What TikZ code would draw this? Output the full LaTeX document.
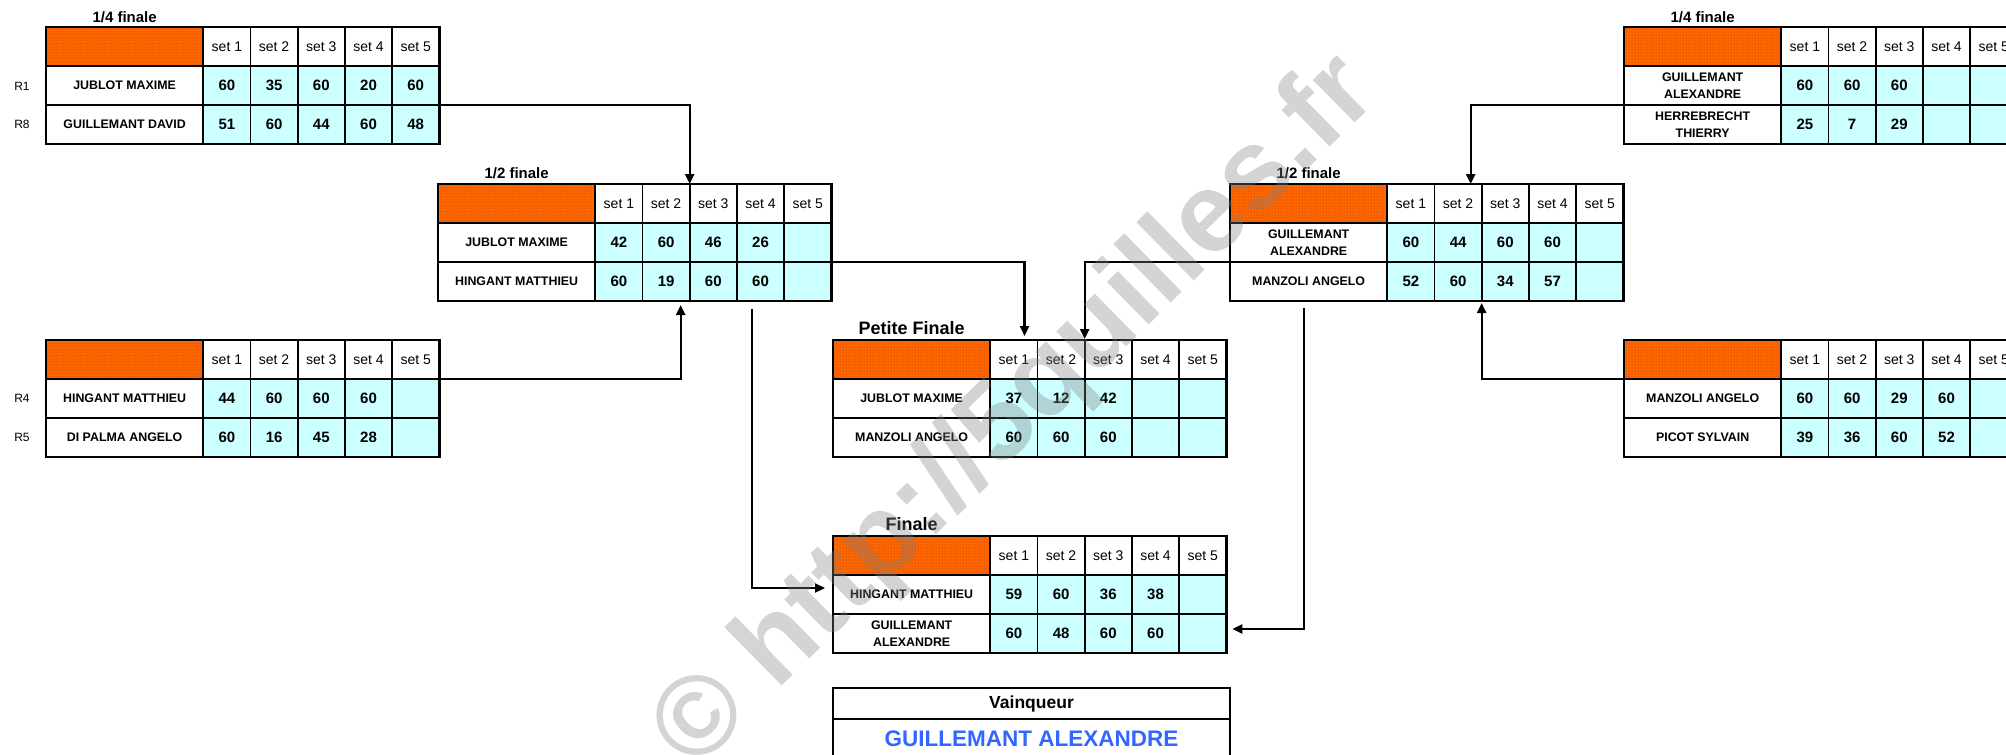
\documentclass[tikz,border=0pt]{standalone}
\usepackage{fontspec}
\setmainfont{Liberation Sans}
\usetikzlibrary{patterns,arrows.meta,calc}
\definecolor{orangeF}{RGB}{255,102,0}
\definecolor{dotc}{RGB}{160,60,0}
\definecolor{cellc}{RGB}{204,255,255}
\definecolor{blueW}{RGB}{51,102,255}
\tikzset{
  cell/.style={draw, line width=1.8pt, inner sep=0pt, outer sep=0pt, anchor=north west, minimum height=39pt},
  hcell/.style={cell, minimum width=157.3pt, fill=orangeF, postaction={pattern=dots, pattern color=dotc}},
  setcell/.style={cell, minimum width=47.2pt, fill=white, font=\fontsize{14}{14}\selectfont},
  namecell/.style={cell, minimum width=157.3pt, fill=white, align=center, font=\fontsize{12.4}{17}\selectfont\bfseries},
  scorecell/.style={cell, minimum width=47.2pt, fill=cellc, font=\fontsize{15}{15}\selectfont\bfseries},
  outer/.style={draw, line width=2.6pt},
  ttl/.style={anchor=base, inner sep=0pt, font=\fontsize{15}{15}\selectfont\bfseries},
  bigttl/.style={anchor=base, inner sep=0pt, font=\fontsize{18}{18}\selectfont\bfseries},
  rlab/.style={inner sep=0pt, font=\fontsize{12}{12}\selectfont},
  conn/.style={line width=2.2pt, -{Triangle[length=10pt,width=9pt]}},
}
\newcommand{\mtab}[6]{%
  \node[hcell] (#1-h) at (#2,#3) {};
  \foreach \i in {1,...,5}{
    \node[setcell] (#1-h\i) at ({#2+157.3+47.2*(\i-1)},#3) {set \i};
  }
  \node[namecell] (#1-n1) at (#2,#3+39) {#4};
  \node[namecell] (#1-n2) at (#2,#3+78) {#5};
  \foreach \a/\b [count=\i] in {#6}{
    \node[scorecell] (#1-1\i) at ({#2+157.3+47.2*(\i-1)},#3+39) {\a};
    \node[scorecell] (#1-2\i) at ({#2+157.3+47.2*(\i-1)},#3+78) {\b};
  }
  \draw[outer] (#1-h.north west) rectangle (#1-25.south east);
}
\begin{document}
\begin{tikzpicture}[x=1pt,y=-1pt]
\useasboundingbox (0,0) rectangle (2006,755);
\clip (0,0) rectangle (2006,755);
% quarter finals left
\mtab{qa}{46}{27}{JUBLOT MAXIME}{GUILLEMANT DAVID}{60/51,35/60,60/44,20/60,60/48}
\mtab{qb}{46}{340}{HINGANT MATTHIEU}{DI PALMA ANGELO}{44/60,60/16,60/45,60/28,~/~}
% semi finals
\mtab{sa}{438}{184}{JUBLOT MAXIME}{HINGANT MATTHIEU}{42/60,60/19,46/60,26/60,~/~}
\mtab{sb}{1230}{184}{GUILLEMANT\\ALEXANDRE}{MANZOLI ANGELO}{60/52,44/60,60/34,60/57,~/~}
% petite finale and finale
\mtab{pf}{833}{340}{JUBLOT MAXIME}{MANZOLI ANGELO}{37/60,12/60,42/60,~/~,~/~}
\mtab{fn}{833}{536}{HINGANT MATTHIEU}{GUILLEMANT\\ALEXANDRE}{59/60,60/48,36/60,38/60,~/~}
% quarter finals right
\mtab{qc}{1624}{27}{GUILLEMANT\\ALEXANDRE}{HERREBRECHT\\THIERRY}{60/25,60/7,60/29,~/~,~/~}
\mtab{qd}{1624}{340}{MANZOLI ANGELO}{PICOT SYLVAIN}{60/39,60/36,29/60,60/52,~/~}
% titles
\node[ttl] (t-qa) at ([yshift=4.5pt]qa-h.north) {1/4 finale};
\node[ttl] (t-qc) at ([yshift=4.5pt]qc-h.north) {1/4 finale};
\node[ttl] (t-sa) at ([yshift=5.5pt]sa-h.north) {1/2 finale};
\node[ttl] (t-sb) at ([yshift=5.5pt]sb-h.north) {1/2 finale};
\node[bigttl] (t-pf) at ([yshift=5.5pt]pf-h.north) {Petite Finale};
\node[bigttl] (t-fn) at ([yshift=5.5pt]fn-h.north) {Finale};
% seeds
\node[rlab] (r1) at (22,86) {R1};
\node[rlab] (r8) at (22,124.5) {R8};
\node[rlab] (r4) at (22,398.5) {R4};
\node[rlab] (r5) at (22,437) {R5};
% winner
\node[draw, line width=2.8pt, inner sep=0pt, outer sep=0pt, anchor=north west, minimum width=397pt, minimum height=31pt, font=\fontsize{17.5}{17.5}\selectfont\bfseries] (vq) at (833,688) {Vainqueur};
\node[draw, line width=2.8pt, inner sep=0pt, outer sep=0pt, anchor=north west, minimum width=397pt, minimum height=60pt, text=blueW, font=\fontsize{22.5}{22.5}\selectfont\bfseries, text depth=20pt] (vqn) at (833,719) {GUILLEMANT ALEXANDRE};
% connectors
\draw[conn] (qa-15.south east) -| (sa-h2.north east);
\draw[conn] (qb-h5.south east) -| ([xshift=-9pt,yshift=-4pt]sa-22.south east);
\draw[conn] (sa-15.south east) -| ([xshift=-13pt,yshift=4pt]pf-h1.north east);
\draw[conn] (sb-n1.south west) -| ([yshift=1pt]pf-h2.north east);
\draw[conn] (qc-n1.south west) -| ([xshift=-11pt]sb-h2.north east);
\draw[conn] (qd-h.south west) -| ([yshift=-2pt]sb-22.south east);
\coordinate (c1) at ([xshift=-32pt,yshift=-8pt]sa-24.south east);
\coordinate (c2) at ([xshift=-5pt,yshift=-7pt]sb-n2.south);
\draw[conn] (c1) |- ([xshift=-8pt,yshift=6.5pt]fn-n1.west);
\draw[conn] (c2) |- ([xshift=6pt,yshift=4.5pt]fn-25.east);
% watermark
\node[rotate=44.5, text=black!50, opacity=0.34, inner sep=0pt, font=\fontsize{113}{113}\selectfont\bfseries] (wm) at (1017,414) {© http://5quilles.fr};
\end{tikzpicture}
\end{document}
